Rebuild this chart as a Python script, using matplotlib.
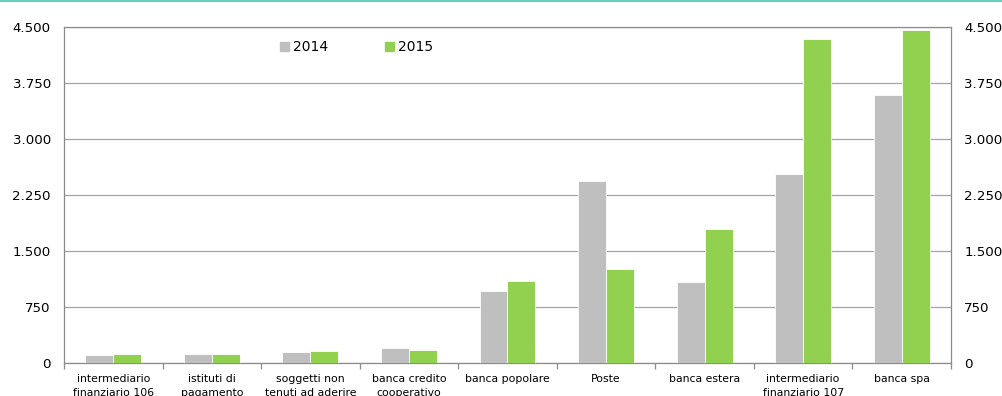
import matplotlib.pyplot as plt
import numpy as np
from matplotlib.lines import Line2D
from matplotlib.patches import Patch

categories = [
    "intermediario\nfinanziario 106",
    "istituti di\npagamento",
    "soggetti non\ntenuti ad aderire",
    "banca credito\ncooperativo",
    "banca popolare",
    "Poste",
    "banca estera",
    "intermediario\nfinanziario 107",
    "banca spa",
]
values_2014 = [103, 120, 151, 197, 964, 2437, 1085, 2531, 3589]
values_2015 = [120, 120, 165, 174, 1098, 1259, 1795, 4339, 4460]
yticks = [0, 750, 1500, 2250, 3000, 3750, 4500]

grey = "#BFBFBF"
green = "#92D050"
axis_col = "#8C8C8C"

fig = plt.figure(figsize=(10.03, 3.96), dpi=100)
ax = fig.add_axes([64 / 1003, 1 - 363 / 396, (951 - 64) / 1003, (363 - 27) / 396])

x = np.arange(len(categories))
w = 0.284
ax.bar(x - w / 2, values_2014, w, color=grey, edgecolor="white", linewidth=0.6, zorder=3)
ax.bar(x + w / 2, values_2015, w, color=green, edgecolor="white", linewidth=0.6, zorder=3)

ax.set_xlim(-0.5, len(categories) - 0.5)
ax.set_ylim(0, 4500)

def fmt(v):
    return f"{v:,}".replace(",", ".")

ax.set_yticks(yticks)
ax.set_yticklabels([fmt(v) for v in yticks], fontsize=9.6)
ax.tick_params(axis="y", length=0, pad=9.5, labelright=True, labelleft=True)
ax.yaxis.grid(True, color="#A6A6A6", linewidth=0.9, zorder=0)

# category labels under the axis, ticks on the boundaries
ax.set_xticks(x)
ax.set_xticklabels(categories, fontsize=7.8, linespacing=1.45, va="top")
ax.tick_params(axis="x", length=0, pad=8)
ax.set_xticks(np.arange(len(categories) + 1) - 0.5, minor=True)
ax.tick_params(axis="x", which="minor", length=4, color=axis_col, width=0.9)

for side in ["left", "right", "bottom", "top"]:
    ax.spines[side].set_color(axis_col)
    ax.spines[side].set_linewidth(0.9)

handles = [Patch(color=grey, label="2014"), Patch(color=green, label="2015")]
ax.legend(handles=handles, loc="center left", bbox_to_anchor=(0.243, 0.94), ncol=2,
          frameon=False, fontsize=10, handlelength=0.65, handleheight=0.65,
          handletextpad=0.3, columnspacing=4.1, borderpad=0, borderaxespad=0)

fig.add_artist(Line2D([0, 1], [0.998, 0.998], color="#66CCBB", linewidth=1.5,
                      transform=fig.transFigure))

fig.savefig("out.png", dpi=100)
